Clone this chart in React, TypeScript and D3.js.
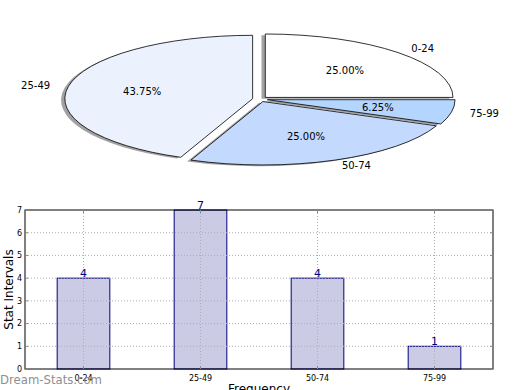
import React from 'react';
import * as d3 from 'd3';

// Frequency table (shared by pie and bars)
const intervals = ['0-24', '25-49', '50-74', '75-99'];
const counts = [4, 7, 4, 1];
const sliceColors = ['#ffffff', '#ebf2fe', '#c3d9fe', '#b4d5fe'];
const yTicks = [0, 1, 2, 3, 4, 5, 6, 7];

const W = 520;
const H = 390;
const FONT = 'DejaVu Sans, Verdana, sans-serif';

const PieChart: React.FC = () => {
  // ellipse geometry (matplotlib pie, non-equal aspect)
  const cx = 260;
  const cy = 99.2;
  const rx = 187.7;
  const ry = 63.4;
  const explode = 0.04;
  const total = d3.sum(counts);

  // counterclockwise from 3 o'clock, like matplotlib
  const pie = d3.pie<number>().sort(null).startAngle(Math.PI / 2).endAngle(Math.PI / 2 - 2 * Math.PI);
  const arcs = pie(counts);
  const arc = d3.arc<d3.PieArcDatum<number>>().innerRadius(0).outerRadius(1);

  const unit = (a: number, r: number) => [Math.sin(a) * r, -Math.cos(a) * r];

  return (
    <g>
      {arcs.map((d, i) => {
        const mid = (d.startAngle + d.endAngle) / 2;
        const [ox, oy] = unit(mid, explode);
        const tx = cx + ox * rx;
        const ty = cy + oy * ry;
        return (
          <g key={'sh' + i} transform={`translate(${tx - 3.8},${ty + 1.3}) scale(${rx},${ry})`}>
            <path d={arc(d) || ''} fill="#555" opacity={0.55} />
          </g>
        );
      })}
      {arcs.map((d, i) => {
        const mid = (d.startAngle + d.endAngle) / 2;
        const [ox, oy] = unit(mid, explode);
        const tx = cx + ox * rx;
        const ty = cy + oy * ry;
        const [lx, ly] = unit(mid, 1.1);
        const [px, py] = unit(mid, 0.6);
        const labelX = tx + lx * rx;
        return (
          <g key={i}>
            <g transform={`translate(${tx},${ty}) scale(${rx},${ry})`}>
              <path
                d={arc(d) || ''}
                fill={sliceColors[i]}
                stroke="#000"
                strokeWidth={0.8}
                vectorEffect="non-scaling-stroke"
              />
            </g>
            <text
              x={labelX}
              y={ty + ly * ry}
              dy="0.35em"
              textAnchor={labelX > cx ? 'start' : 'end'}
              fontSize={10}
              fontFamily={FONT}
            >
              {intervals[i]}
            </text>
            <text
              x={tx + px * rx}
              y={ty + py * ry}
              dy="0.35em"
              textAnchor="middle"
              fontSize={10}
              fontFamily={FONT}
            >
              {((counts[i] / total) * 100).toFixed(2) + '%'}
            </text>
          </g>
        );
      })}
    </g>
  );
};

const BarChart: React.FC = () => {
  const left = 25;
  const right = 493;
  const top = 210;
  const bottom = 369;

  const x = d3.scaleBand<string>().domain(intervals).range([left, right]).paddingInner(0.55).paddingOuter(0.275);
  const y = d3.scaleLinear().domain([0, 7]).range([bottom, top]);

  return (
    <g fontFamily={FONT}>
      {/* bars */}
      {intervals.map((c, i) => (
        <rect
          key={'b' + c}
          x={x(c)}
          y={y(counts[i])}
          width={x.bandwidth()}
          height={bottom - y(counts[i])}
          fill="#cbcbe5"
          stroke="#000080"
          strokeWidth={1}
        />
      ))}
      {/* grid (drawn above bars, as matplotlib does) */}
      {yTicks.slice(1, -1).map(t => (
        <line key={'gy' + t} x1={left} x2={right} y1={y(t)} y2={y(t)} stroke="#adadb5" strokeDasharray="1,2" />
      ))}
      {intervals.map(c => {
        const xc = (x(c) || 0) + x.bandwidth() / 2;
        return <line key={'gx' + c} x1={xc} x2={xc} y1={top} y2={bottom} stroke="#adadb5" strokeDasharray="1,2" />;
      })}
      {/* value labels */}
      {intervals.map((c, i) => (
        <text
          key={'v' + c}
          x={(x(c) || 0) + x.bandwidth() / 2}
          y={y(counts[i]) - 1}
          textAnchor="middle"
          fontSize={11}
          fill="#000080"
        >
          {counts[i]}
        </text>
      ))}
      {/* frame */}
      <rect x={left} y={top} width={right - left} height={bottom - top} fill="none" stroke="#000" strokeWidth={1} />
      {/* y ticks */}
      {yTicks.map(t => (
        <g key={'yt' + t}>
          <line x1={left} x2={left + 3} y1={y(t)} y2={y(t)} stroke="#888" />
          <line x1={right - 3} x2={right} y1={y(t)} y2={y(t)} stroke="#888" />
          <text x={left - 3} y={y(t)} dy="0.35em" textAnchor="end" fontSize={8}>
            {t}
          </text>
        </g>
      ))}
      {/* x ticks */}
      {intervals.map(c => {
        const xc = (x(c) || 0) + x.bandwidth() / 2;
        return (
          <g key={'xt' + c}>
            <line x1={xc} x2={xc} y1={bottom} y2={bottom - 3} stroke="#888" />
            <line x1={xc} x2={xc} y1={top} y2={top + 3} stroke="#888" />
            <text x={xc} y={381} textAnchor="middle" fontSize={8}>
              {c}
            </text>
          </g>
        );
      })}
      <text x={(left + right) / 2} y={393} textAnchor="middle" fontSize={12}>
        Frequency
      </text>
      <text transform={`translate(13,${(top + bottom) / 2}) rotate(-90)`} textAnchor="middle" fontSize={12}>
        Stat Intervals
      </text>
    </g>
  );
};

const App: React.FC = () => {
  return (
    <div style={{ position: 'absolute', left: 0, top: 0, width: W, height: H, background: '#fff' }}>
      <svg width={W} height={H} style={{ display: 'block' }}>
        <rect width={W} height={H} fill="#fff" />
        <PieChart />
        <BarChart />
        <text
          x={0}
          y={384}
          fontSize={13}
          fontFamily={FONT}
          fill="#8f8f8f"
          textLength={102}
          lengthAdjust="spacingAndGlyphs"
        >
          Dream-Stats.com
        </text>
      </svg>
    </div>
  );
};

export default App;
